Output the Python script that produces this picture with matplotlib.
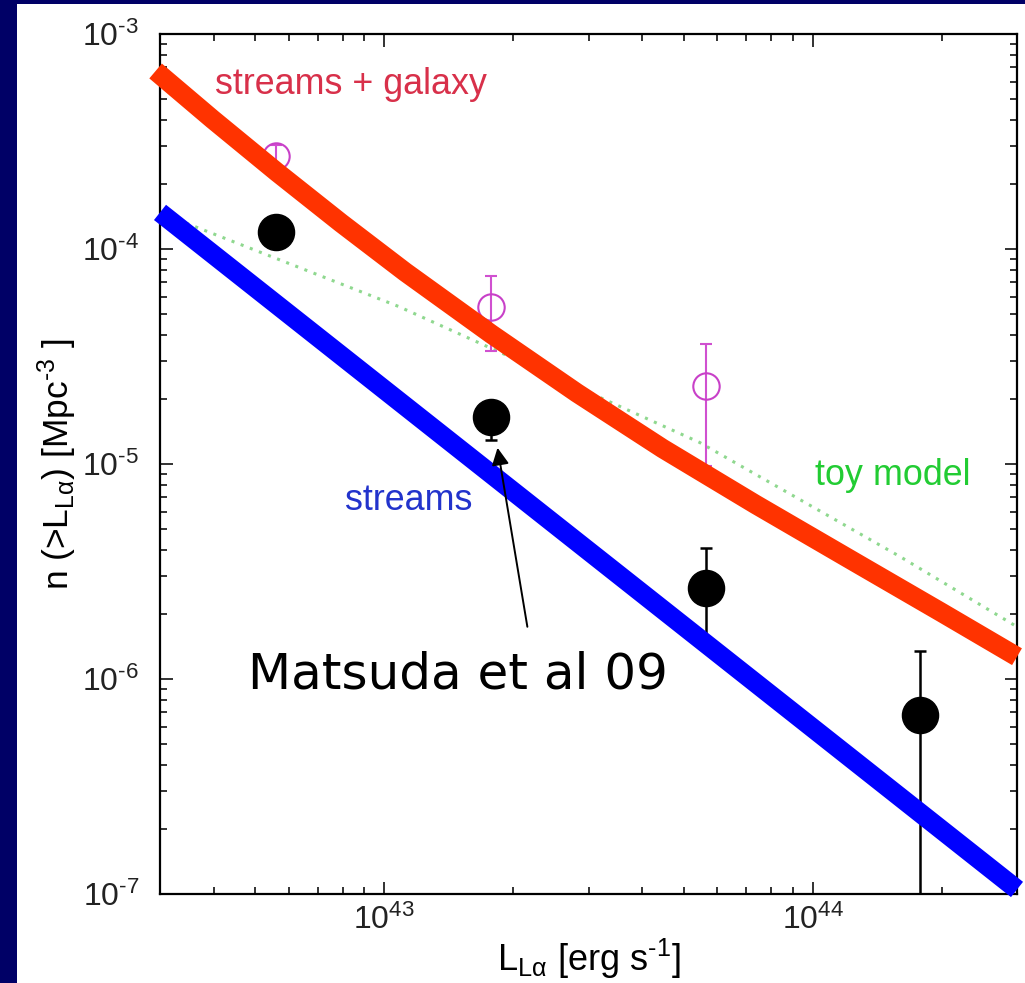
import numpy as np
import matplotlib.pyplot as plt
from matplotlib.patches import Rectangle
from matplotlib.ticker import FuncFormatter

plt.rcParams.update({'font.family': 'Liberation Sans',
                     'mathtext.fontset': 'custom',
                     'mathtext.rm': 'Liberation Sans',
                     'mathtext.it': 'Liberation Sans:italic',
                     'mathtext.default': 'regular',
                     'axes.linewidth': 1.6})

# model curves: cumulative number density vs Lya luminosity
L_streams = [3.0e42, 3.0e44]
n_streams = [1.48e-4, 1.05e-7]

L_total = [2.93e42, 3.98e42, 5.62e42, 7.94e42, 1.12e43, 1.78e43,
           2.82e43, 4.47e43, 7.36e43, 1.26e44, 2.0e44, 3.0e44]
n_total = [6.73e-4, 4.01e-4, 2.28e-4, 1.32e-4, 7.82e-5, 4.02e-5,
           2.14e-5, 1.18e-5, 6.49e-6, 3.48e-6, 2.04e-6, 1.27e-6]

L_toy = [2.98e42, 1.08e43, 5.45e43, 1.60e44, 3.0e44]
n_toy = [1.48e-4, 5.41e-5, 1.26e-5, 3.71e-6, 1.75e-6]

# Matsuda et al. 2009 blobs (filled) and open symbols
L_m09 = [5.6e42, 1.78e43, 5.65e43, 1.78e44]
n_m09 = [1.2e-4, 1.65e-5, 2.66e-6, 6.8e-7]
n_m09_hi = [1.38e-4, 1.9e-5, 4.08e-6, 1.35e-6]
n_m09_lo = [1.04e-4, 1.3e-5, 1.45e-6, 1e-9]

L_open = [5.6e42, 1.78e43, 5.65e43]
n_open = [2.7e-4, 5.4e-5, 2.3e-5]
n_open_hi = [3.05e-4, 7.46e-5, 3.6e-5]
n_open_lo = [2.35e-4, 3.34e-5, 9.8e-6]


def pow10(v, pos):
    e = int(round(np.log10(v)))
    if e < 0:
        return r'$10^{\text{-}%d}$' % (-e)
    return r'$10^{%d}$' % e


fig = plt.figure(figsize=(10.25, 9.83), dpi=100, facecolor='#000066')
fig.patches.append(Rectangle((17 / 1025, 0), 1, 979 / 983, transform=fig.transFigure,
                             facecolor='white', edgecolor='none', zorder=-10))
ax = fig.add_axes([0.1561, 0.0905, 0.8361, 0.8749])
ax.set_xscale('log')
ax.set_yscale('log')

ax.plot(L_toy, n_toy, ls=(0, (1, 2.2)), color='#8fd88f', lw=2.2, zorder=1)

yerr = [np.array(n_open) - np.array(n_open_lo), np.array(n_open_hi) - np.array(n_open)]
ax.errorbar(L_open, n_open, yerr=yerr, fmt='o', ms=19, mfc='none', mec='#c840c8',
            mew=1.5, ecolor='#d050d0', elinewidth=1.5, capsize=4.5, capthick=1.5, zorder=2)

yerr = [np.array(n_m09) - np.array(n_m09_lo), np.array(n_m09_hi) - np.array(n_m09)]
ax.errorbar(L_m09, n_m09, yerr=yerr, fmt='o', ms=26, color='black',
            elinewidth=1.8, capsize=4.3, capthick=1.8, zorder=3)

ax.plot(L_total, n_total, color='#ff3300', lw=14, solid_capstyle='butt',
        solid_joinstyle='round', clip_on=False, zorder=4)
ax.plot(L_streams, n_streams, color='#0000ff', lw=14, solid_capstyle='butt', clip_on=False, zorder=4)

ax.set_xlim(3e42, 3e44)
ax.set_ylim(1e-7, 1e-3)
ax.xaxis.set_major_formatter(FuncFormatter(pow10))
ax.yaxis.set_major_formatter(FuncFormatter(pow10))

ax.tick_params(which='both', direction='in', top=True, right=True, width=1.3,
               labelsize=23, colors='#222222')
ax.tick_params(which='major', length=9)
ax.tick_params(which='minor', length=5)
ax.tick_params(axis='y', pad=15)
ax.tick_params(axis='x', pad=8)

ax.set_xlabel(r'L$_{L\alpha}$ [erg s$^{\text{-}1}$]', fontsize=26, labelpad=0)
ax.set_ylabel(r'n (>L$_{L\alpha}$) [Mpc$^{\text{-}3}$ ]', fontsize=25.5, labelpad=2)

ax.text(0.064, 0.941, 'streams + galaxy', transform=ax.transAxes, fontsize=25.8,
        color='#d8304a', va='center')
ax.text(0.216, 0.458, 'streams', transform=ax.transAxes, fontsize=25.8,
        color='#2233cc', va='center')
ax.text(0.764, 0.487, 'toy model', transform=ax.transAxes, fontsize=25.8,
        color='#22cc33', va='center')

ax.annotate('', xy=(1.84e43, 1.19e-5), xytext=(2.16e43, 1.75e-6),
            arrowprops=dict(arrowstyle='-|>', color='black', lw=1.4,
                            mutation_scale=26, shrinkA=0, shrinkB=0), zorder=5)
ax.text(0.103, 0.2395, 'Matsuda et al 09', transform=ax.transAxes, fontsize=36,
        family='DejaVu Sans', color='black', va='baseline')

plt.savefig('out.png', dpi=100, facecolor=fig.get_facecolor())
